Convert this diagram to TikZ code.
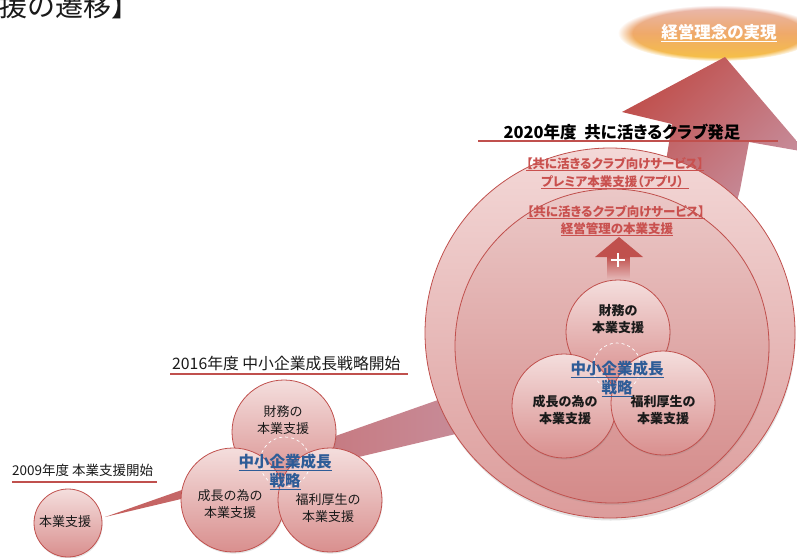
\documentclass[tikz,border=0pt]{standalone}
\usepackage{fontspec}
\setmainfont{Noto Sans CJK JP}
\newfontfamily\jpp{Noto Sans CJK JP}[RawFeature=+palt]
\usetikzlibrary{fadings,shadows}
\definecolor{accred}{HTML}{C0504D}
\definecolor{ctop}{HTML}{F4DEDD}
\definecolor{cbot}{HTML}{D98F8E}
\definecolor{otop}{HTML}{F3D8D7}
\definecolor{obot}{HTML}{DC9C9B}
\definecolor{itop}{HTML}{EBC8C7}
\definecolor{ibot}{HTML}{D48A89}
\definecolor{blu}{HTML}{2E5C97}
\definecolor{redtxt}{HTML}{C9504E}
\definecolor{mauve}{HTML}{C89DB0}
\definecolor{ellTop}{HTML}{E8B8B2}
\definecolor{ellMid}{HTML}{EFA96A}
\definecolor{ellBot}{HTML}{F6C243}
\definecolor{ink}{HTML}{1A1A1A}
\tikzfading[name=fadedown, top color=transparent!0, bottom color=transparent!100]
\tikzset{
  bub/.style={circle, draw=accred, line width=0.8pt, top color=ctop, bottom color=cbot,
    inner sep=0pt, minimum size=#1,
    drop shadow={opacity=0.22, shadow xshift=0.6pt, shadow yshift=-1.6pt}},
  dashc/.style={circle, draw=white, dashed, line width=0.7pt, inner sep=0pt, minimum size=#1},
  ctxt/.style={align=center, inner sep=0pt, text=ink, font=\fontsize{13}{17}\selectfont},
  ctxtb/.style={align=center, inner sep=0pt, text=ink, font=\bfseries\fontsize{13}{16.5}\selectfont},
  btxt/.style={align=center, inner sep=0pt, text=blu, font=\bfseries\fontsize{15.5}{19.5}\selectfont},
  rtxt/.style={anchor=base, inner sep=0pt, text=redtxt, font=\jpp\bfseries\fontsize{12.5}{15}\selectfont},
  uline/.style={draw=accred, line width=2.3pt},
}
\begin{document}
\begin{tikzpicture}[x=1pt,y=-1pt]
\useasboundingbox (0,0) rectangle (797,557);
\clip (0,0) rectangle (797,557);

% partial title, top left
\node[anchor=base east, inner sep=0pt, text=ink, font=\fontsize{28}{30}\selectfont] (ttl) at (140,16) {援の遷移】};

% goal ellipse
\shade[top color=ellTop, bottom color=ellBot, middle color=ellMid,
  path fading=circle with fuzzy edge 15 percent] (718,33) ellipse [x radius=100, y radius=28];
\node[inner sep=0pt, text=white, font=\jpp\bfseries\fontsize{16.5}{18}\selectfont] (goal) at (719,33) {\underline{経営理念の実現}};

% growth arrow: head and shaft
\shade[left color=accred, right color=mauve, shading angle=45]
  (622,112) -- (725,57) -- (806,152) -- (749,142) -- (740,190) -- (720,262)
  -- (660,262) -- (663,180) -- (672,124) -- cycle;
% growth arrow: lower band
\shade[left color=accred!92!white, right color=mauve]
  (105,517) -- (455,394) -- (600,330) -- (600,430) -- (460,433) -- cycle;

% 2009
\node[anchor=base west, inner sep=0pt, text=ink, font=\fontsize{13.5}{16}\selectfont] (l09) at (12,475) {2009年度 本業支援開始};
\draw[uline] (12,482) -- (157,482);
\node[bub=68pt] (c09) at (68,523) {};
\node[ctxt] (t09) at (65,522) {本業支援};

% 2016
\node[anchor=base west, inner sep=0pt, text=ink, font=\fontsize{15.8}{18}\selectfont] (l16) at (172,369) {2016年度 中小企業成長戦略開始};
\draw[uline] (170,374) -- (408,374);
\node[bub=104pt] (f16) at (284,432) {};
\node[bub=104pt] (g16) at (233,500) {};
\node[bub=104pt] (w16) at (330,500) {};
\node[dashc=50pt] (d16) at (285,462) {};
\node[ctxt] (tf16) at (283,420) {財務の\\本業支援};
\node[ctxt] (tg16) at (230,504) {成長の為の\\本業支援};
\node[ctxt] (tw16) at (328,508) {福利厚生の\\本業支援};
\node[btxt] (s16) at (285,472) {\underline{中小企業成長}\\\underline{戦略}};

% 2020
\node[circle, draw=accred, line width=0.8pt, top color=otop, bottom color=obot, inner sep=0pt,
  minimum size=370pt, drop shadow={opacity=0.22, shadow xshift=0.6pt, shadow yshift=-2.5pt}] (outer) at (610,333) {};
\node[circle, draw=accred, line width=0.8pt, top color=itop, bottom color=ibot, inner sep=0pt,
  minimum size=314pt, drop shadow={opacity=0.18, shadow xshift=0.6pt, shadow yshift=-2pt}] (inner) at (612,346) {};

\node[anchor=base, inner sep=0pt, text=black, font=\jpp\bfseries\fontsize{16.5}{18}\selectfont] (l20) at (622,138) {2020年度\ \ 共に活きるクラブ発足};
\draw[uline] (478,141) -- (778,141);

\node[rtxt] (r1) at (615,168) {\underline{【共に活きるクラブ向けサービス】}};
\node[rtxt] (r2) at (615,186) {\underline{プレミア本業支援（アプリ）\hspace{5pt}}};
\node[rtxt] (r3) at (616,216) {\underline{【共に活きるクラブ向けサービス】}};
\node[rtxt] (r4) at (617,233) {\underline{経営管理の本業支援}};

% small up arrow with plus
\fill[accred] (595,257) -- (619,237) -- (643,257) -- cycle;
\fill[accred, path fading=fadedown] (607,256.5) rectangle (630,279);
\draw[white, line width=1.1pt] (618,253) -- (618,267) (611,260) -- (625,260);

\node[bub=104pt] (f20) at (618,332) {};
\node[bub=104pt] (g20) at (564,406) {};
\node[bub=104pt] (w20) at (663,403) {};
\node[dashc=48pt] (d20) at (617,367) {};
\node[ctxtb] (tf20) at (618,319) {財務の\\本業支援};
\node[ctxtb] (tg20) at (565,410) {成長の為の\\本業支援};
\node[ctxtb] (tw20) at (663,410) {福利厚生の\\本業支援};
\node[btxt] (s20) at (617,379) {\underline{中小企業成長}\\\underline{戦略}};
\end{tikzpicture}
\end{document}
